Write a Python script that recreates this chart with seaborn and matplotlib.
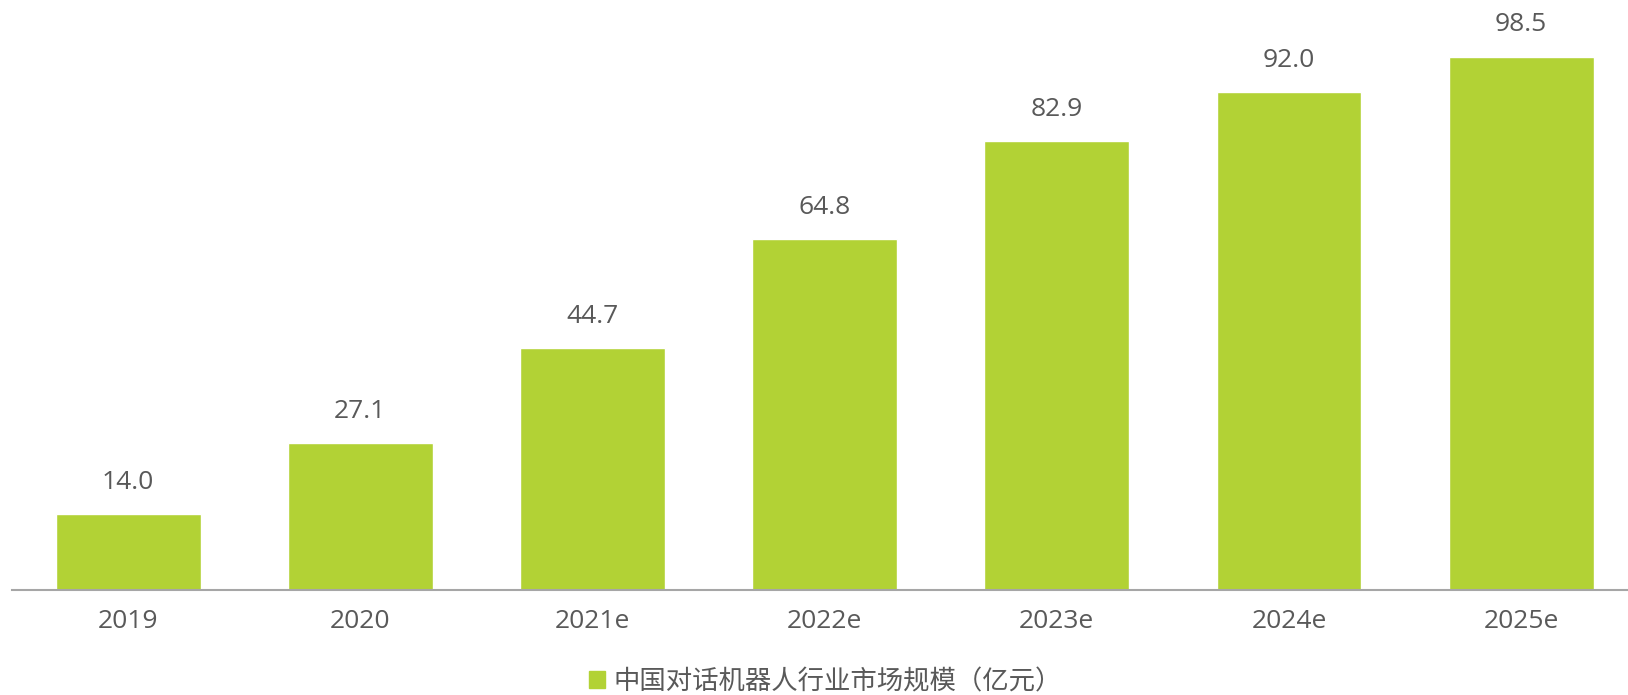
import matplotlib
matplotlib.use("Agg")
import matplotlib.pyplot as plt
import seaborn as sns
import pandas as pd

years = ["2019", "2020", "2021e", "2022e", "2023e", "2024e", "2025e"]
market_size = [14.0, 27.1, 44.7, 64.8, 82.9, 92.0, 98.5]
series_name = "中国对话机器人行业市场规模（亿元）"

bar_color = "#B2D235"
text_color = "#595959"

sns.set_theme(style="white")
plt.rcParams["font.family"] = ["Open Sans", "Noto Sans CJK SC", "DejaVu Sans"]

df = pd.DataFrame({"year": years, "value": market_size, "series": series_name})

fig = plt.figure(figsize=(16.28, 6.95), dpi=100)
ax = fig.add_axes([12 / 1628, 105 / 695, 1 - 12 / 1628, 590 / 695])

sns.barplot(data=df, x="year", y="value", hue="series", palette=[bar_color],
            width=0.624, saturation=1, ax=ax, legend=False)

for i, v in enumerate(market_size):
    ax.annotate(f"{v:.1f}", (i, v), xytext=(0, 14), textcoords="offset points",
                ha="center", va="bottom", fontsize=19, color=text_color)

ax.set_xlim(-0.5, 6.46)
ax.set_ylim(0, 109)
ax.set_xlabel("")
ax.set_ylabel("")
ax.set_yticks([])
ax.tick_params(axis="x", length=0, pad=14, labelsize=19, labelcolor=text_color)
for side in ["top", "right", "left"]:
    ax.spines[side].set_visible(False)
ax.spines["bottom"].set_color("#A6A6A6")
ax.spines["bottom"].set_linewidth(1.5)

handle = plt.Rectangle((0, 0), 1, 1, color=bar_color)
fig.legend([handle], [series_name], loc="center", bbox_to_anchor=(0.507, 0.018),
           frameon=False, fontsize=19, labelcolor=text_color, handlelength=0.6,
           handleheight=0.6, handletextpad=0.3)

fig.savefig("out.png", dpi=100)
